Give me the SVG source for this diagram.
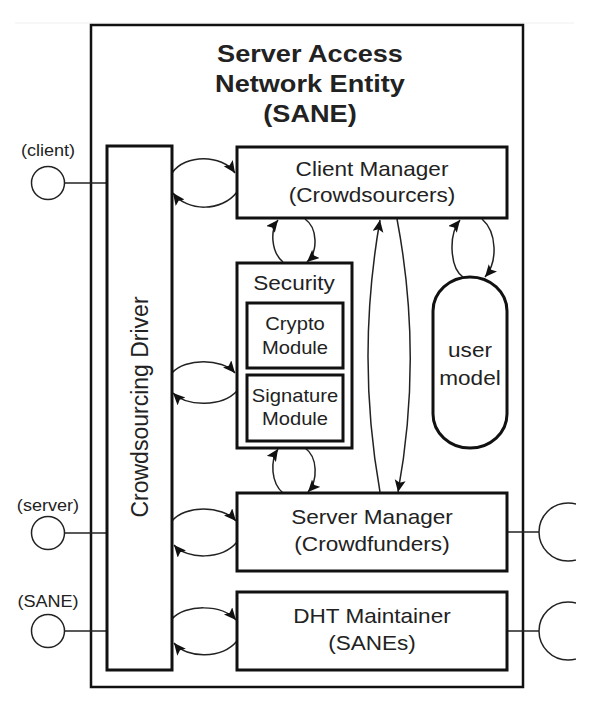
<svg xmlns="http://www.w3.org/2000/svg" width="608" height="716" viewBox="0 0 608 716">
<style>
.box{fill:#fff;stroke:#111;stroke-width:3}
.thin{fill:none;stroke:#222;stroke-width:1.5}
.arc{fill:none;stroke:#222;stroke-width:1.5;marker-end:url(#ah)}
text{font-family:"Liberation Sans",Arial,sans-serif;fill:#222;text-anchor:middle}
.title{font-size:24px;font-weight:bold}
.lbl{font-size:20.5px}
.sm{font-size:18px}
.port{font-size:16px}
</style>
<defs>
<marker id="ah" markerUnits="userSpaceOnUse" markerWidth="14" markerHeight="12" refX="12" refY="5.5" orient="auto">
<path d="M0,0 L12,5.5 L0,11 L2.5,5.5 z" fill="#111"/>
</marker>
<clipPath id="clipR"><rect x="0" y="0" width="576" height="716"/></clipPath>
</defs>
<line x1="15" y1="23" x2="574" y2="23" stroke="#f0f0f0" stroke-width="1"/>
<g id="sane">
<rect x="91" y="25" width="432" height="662" fill="#fff" stroke="#111" stroke-width="2.5"/>
<text class="title" transform="translate(310,62) scale(1.13,1)">Server Access</text>
<text class="title" transform="translate(310,92) scale(1.13,1)">Network Entity</text>
<text class="title" transform="translate(310,122) scale(1.13,1)">(SANE)</text>
</g>
<g id="connectors">
<line class="thin" x1="64.5" y1="183" x2="107" y2="183"/>
<line class="thin" x1="64.5" y1="533" x2="107" y2="533"/>
<line class="thin" x1="64.5" y1="631" x2="107" y2="631"/>
<line class="thin" x1="507" y1="532" x2="539" y2="532"/>
<line class="thin" x1="507" y1="631" x2="539" y2="631"/>
<path class="arc" d="M172,173 C185,154 222,154 235,173"/>
<path class="arc" d="M237,192 C222,212 187,212 173,193"/>
<path class="arc" d="M172,373 C185,358 222,358 235,373"/>
<path class="arc" d="M237,391 C222,407 187,407 173,393"/>
<path class="arc" d="M172,521 C185,505 222,505 236,521"/>
<path class="arc" d="M237,542 C222,560 187,560 174,545"/>
<path class="arc" d="M172,619 C185,604 222,604 236,620"/>
<path class="arc" d="M237,641 C222,659 187,659 174,643"/>
<path class="arc" d="M283,262 C271,252 270,230 278,220"/>
<path class="arc" d="M305,219 C318,228 318,252 307,262"/>
<path class="arc" d="M283,493 C271,483 270,461 278,449"/>
<path class="arc" d="M305,448 C318,457 318,481 308,492"/>
<path class="arc" d="M463,277 C450,268 448,235 460,220"/>
<path class="arc" d="M482,219 C497,232 498,262 485,277"/>
<path class="arc" d="M380,492 Q356,357 380,220"/>
<path class="arc" d="M397,219 Q423,356 398,492"/>
</g>
<g id="client-port">
<text class="port" transform="translate(48,156) scale(1.13,1)">(client)</text>
<circle class="thin" cx="48" cy="183" r="16.5"/>
</g>
<g id="server-port">
<text class="port" transform="translate(48,511) scale(1.13,1)">(server)</text>
<circle class="thin" cx="48" cy="533" r="16.5"/>
</g>
<g id="sane-port">
<text class="port" transform="translate(48,607) scale(1.13,1)">(SANE)</text>
<circle class="thin" cx="48" cy="631" r="16.5"/>
</g>
<g id="crowdsourcing-driver">
<rect class="box" x="107" y="146" width="65" height="524"/>
<text transform="translate(148,407) rotate(-90)" style="font-size:23px">Crowdsourcing Driver</text>
</g>
<g id="client-manager">
<rect class="box" x="237" y="147" width="270" height="71"/>
<text class="lbl" transform="translate(372,176) scale(1.1,1)">Client Manager</text>
<text class="lbl" transform="translate(372,202) scale(1.1,1)">(Crowdsourcers)</text>
</g>
<g id="security">
<rect class="box" x="237" y="263" width="115" height="185"/>
<text class="lbl" transform="translate(294,290) scale(1.1,1)">Security</text>
</g>
<g id="crypto-module">
<rect class="box" x="247" y="303" width="96" height="65"/>
<text class="sm" transform="translate(295,330) scale(1.12,1)">Crypto</text>
<text class="sm" transform="translate(295,354) scale(1.12,1)">Module</text>
</g>
<g id="signature-module">
<rect class="box" x="247" y="375" width="96" height="66"/>
<text class="sm" transform="translate(295,402) scale(1.12,1)">Signature</text>
<text class="sm" transform="translate(295,425) scale(1.12,1)">Module</text>
</g>
<g id="user-model">
<rect class="box" x="433" y="277" width="74" height="171" rx="37" ry="34"/>
<text class="lbl" transform="translate(470,357) scale(1.1,1)">user</text>
<text class="lbl" transform="translate(470,385) scale(1.1,1)">model</text>
</g>
<g id="server-manager">
<rect class="box" x="237" y="493" width="270" height="78"/>
<text class="lbl" transform="translate(372,524) scale(1.1,1)">Server Manager</text>
<text class="lbl" transform="translate(372,551) scale(1.1,1)">(Crowdfunders)</text>
</g>
<g id="dht-maintainer">
<rect class="box" x="237" y="592" width="270" height="78"/>
<text class="lbl" transform="translate(372,623) scale(1.1,1)">DHT Maintainer</text>
<text class="lbl" transform="translate(372,650) scale(1.1,1)">(SANEs)</text>
</g>
<g id="server-socket" clip-path="url(#clipR)">
<circle class="thin" cx="568" cy="532" r="29"/>
</g>
<g id="sane-socket" clip-path="url(#clipR)">
<circle class="thin" cx="568" cy="631" r="29"/>
</g>
</svg>
